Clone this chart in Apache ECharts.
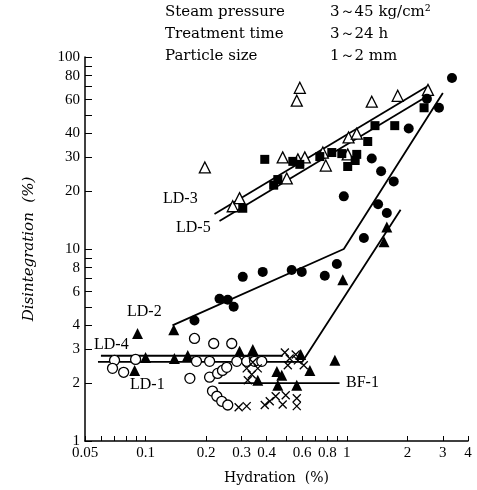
<!DOCTYPE html>
<html lang="en">
<head>
    <meta charset="UTF-8">
    <title>Disintegration vs Hydration</title>
    <style type="text/css">
        * { margin: 0; padding: 0; }
        html, body { width: 100%; height: 100%; background: #fff; }
        #chart-panel { width: 477px; height: 490px; }
    </style>
</head>
<body>
<div id="chart-panel"></div>
<script src="https://cdn.jsdelivr.net/npm/echarts@6/dist/echarts.min.js"></script>
<script>
    // axis ticks / labels
    let xTicks = [0.05, 0.06, 0.07, 0.08, 0.09, 0.1, 0.2, 0.3, 0.4, 0.5, 0.6, 0.7, 0.8, 0.9, 1, 2, 3, 4];
    let xLabels = [0.05, 0.1, 0.2, 0.3, 0.4, 0.6, 0.8, 1, 2, 3, 4];
    let yTicks = [1, 2, 3, 4, 5, 6, 7, 8, 9, 10, 20, 30, 40, 50, 60, 70, 80, 90, 100];
    let yLabels = [1, 2, 3, 4, 6, 8, 10, 20, 30, 40, 60, 80, 100];

    // measured points  [hydration %, disintegration %]
    let ld3Points = [[0.197, 26.6], [0.271, 16.7], [0.293, 18.4], [0.48, 30.0], [0.503, 23.3], [0.571, 29.3],
        [0.618, 30.0], [0.76, 31.8], [0.786, 27.2], [1.01, 31.1], [1.02, 38.1], [1.12, 39.9], [1.33, 58.5],
        [1.79, 62.8], [2.53, 67.4], [0.584, 69.1], [0.564, 59.2]];
    let ld5Points = [[0.304, 16.3], [0.391, 29.3], [0.433, 21.5], [0.454, 23.0], [0.539, 28.6], [0.584, 27.6],
        [0.734, 30.3], [0.842, 31.8], [0.944, 31.4], [1.12, 31.1], [1.10, 28.9], [1.01, 26.9], [1.27, 36.3],
        [1.38, 43.9], [1.73, 43.9], [2.42, 54.4]];
    let ld2Points = [[0.175, 4.24], [0.233, 5.51], [0.256, 5.44], [0.274, 5.0], [0.304, 7.16], [0.382, 7.6],
        [0.532, 7.78], [0.597, 7.6], [0.777, 7.25], [0.892, 8.36], [0.966, 18.8], [1.215, 11.4], [1.33, 29.6],
        [1.48, 25.4], [1.43, 17.1], [1.58, 15.4], [1.71, 22.5], [2.03, 42.4], [2.50, 60.6], [2.87, 54.4], [3.33, 77.8]];
    let ld1Points = [[0.0912, 3.63], [0.0882, 2.33], [0.1, 2.72], [0.139, 2.69], [0.162, 2.79], [0.138, 3.8],
        [0.293, 2.93], [0.341, 3.0], [0.361, 2.07], [0.449, 2.3], [0.475, 2.2], [0.454, 1.95], [0.564, 1.95],
        [0.59, 2.82], [0.655, 2.33], [0.872, 2.63], [0.955, 6.91], [1.53, 10.9], [1.58, 13.0]];
    let ld4Points = [[0.0701, 2.63], [0.0892, 2.66], [0.0685, 2.39], [0.0778, 2.28], [0.175, 3.42], [0.218, 3.22],
        [0.268, 3.22], [0.179, 2.6], [0.166, 2.12], [0.208, 2.6], [0.208, 2.15], [0.228, 2.25], [0.241, 2.33],
        [0.253, 2.42], [0.284, 2.6], [0.318, 2.6], [0.348, 2.6], [0.378, 2.6], [0.215, 1.82], [0.226, 1.71],
        [0.239, 1.61], [0.256, 1.54]];
    let bf1Points = [[0.29, 1.50], [0.318, 1.52], [0.391, 1.54], [0.414, 1.61], [0.443, 1.71], [0.48, 1.55],
        [0.497, 1.73], [0.564, 1.67], [0.564, 1.52], [0.318, 2.39], [0.337, 2.22], [0.322, 2.07], [0.341, 2.57],
        [0.361, 2.39], [0.492, 2.89], [0.52, 2.69], [0.557, 2.82], [0.509, 2.48], [0.571, 2.63], [0.611, 2.48]];

    // fitted lines
    let ld3Line = [[0.22, 15.2], [2.53, 70.7]];
    let ld5Line = [[0.233, 14], [2.39, 60.6]];
    let ld2Line = [[0.136, 4.0], [0.966, 10], [3.0, 65]];
    let ld4Line = [[0.06, 2.78], [0.48, 2.78]];
    let ld1Line = [[0.058, 2.58], [0.6, 2.58], [1.85, 16]];
    let bf1Line = [[0.23, 2.0], [0.92, 2.0]];

    let serif = '"Liberation Serif", "DejaVu Serif", serif';
    let crossPath = 'path://M0,0L10,10M10,0L0,10';

    function lineSeries(data) {
        return {
            type: 'line',
            data: data,
            showSymbol: false,
            silent: true,
            z: 1,
            lineStyle: { color: '#000', width: 1.8 }
        };
    }

    function pointSeries(data, symbol, size, filled) {
        return {
            type: 'scatter',
            data: data,
            symbol: symbol,
            symbolSize: size,
            z: 3,
            itemStyle: {
                color: filled ? '#000' : '#fff',
                borderColor: '#000',
                borderWidth: filled ? 0 : 1.3,
                opacity: 1
            }
        };
    }

    function label(text, x, y) {
        return {
            type: 'text',
            left: x,
            top: y,
            style: { text: text, font: '16px ' + serif, fill: '#000' }
        };
    }

    function header(text, x, y) {
        return {
            type: 'text',
            left: x,
            top: y,
            style: { text: text, font: '15px "DejaVu Serif", serif', fill: '#000' }
        };
    }

    var myChart = echarts.init(document.getElementById('chart-panel'));
    var option = {
        animation: false,
        backgroundColor: '#fff',
        grid: { left: 85, right: 9, top: 57, bottom: 47 },
        xAxis: {
            type: 'log',
            logBase: 10,
            min: 0.05,
            max: 4,
            name: 'Hydration  (%)',
            nameLocation: 'middle',
            nameGap: 30,
            nameTextStyle: { fontFamily: '"DejaVu Serif", serif', fontSize: 14, color: '#000' },
            axisLine: { lineStyle: { color: '#000', width: 1.5 } },
            axisTick: { inside: true, length: 5, customValues: xTicks, lineStyle: { color: '#000' } },
            axisLabel: {
                customValues: xLabels,
                color: '#000',
                fontFamily: serif,
                fontSize: 15,
                margin: 5,
                formatter: v => String(v)
            },
            splitLine: { show: false },
            minorTick: { show: false }
        },
        yAxis: {
            type: 'log',
            logBase: 10,
            min: 1,
            max: 100,
            name: 'Disintegration  (%)',
            nameLocation: 'middle',
            nameRotate: 90,
            nameGap: 48,
            nameTextStyle: { fontFamily: '"DejaVu Serif", serif', fontStyle: 'italic', fontSize: 15, color: '#000' },
            axisLine: { lineStyle: { color: '#000', width: 1.5 } },
            axisTick: { inside: true, length: 7, customValues: yTicks, lineStyle: { color: '#000' } },
            axisLabel: {
                customValues: yLabels,
                color: '#000',
                fontFamily: serif,
                fontSize: 15,
                margin: 5,
                formatter: v => String(v)
            },
            splitLine: { show: false },
            minorTick: { show: false }
        },
        graphic: [
            header('Steam pressure', 165, 5),
            header('3～45 kg/cm²', 330, 5),
            header('Treatment time', 165, 27),
            header('3～24 h', 330, 27),
            header('Particle size', 165, 49),
            header('1～2 mm', 330, 49),
            label('LD-3', 163, 191),
            label('LD-5', 176, 220),
            label('LD-2', 127, 304),
            label('LD-4', 94, 337),
            label('LD-1', 130, 377),
            label('BF-1', 346, 375)
        ],
        series: [
            lineSeries(ld3Line),
            lineSeries(ld5Line),
            lineSeries(ld2Line),
            lineSeries(ld4Line),
            lineSeries(ld1Line),
            lineSeries(bf1Line),
            pointSeries(ld3Points, 'triangle', 11, false),
            pointSeries(ld5Points, 'rect', 9, true),
            pointSeries(ld2Points, 'circle', 10, true),
            pointSeries(ld1Points, 'triangle', 11, true),
            pointSeries(ld4Points, 'circle', 10, false),
            {
                type: 'scatter',
                data: bf1Points,
                symbol: crossPath,
                symbolSize: 8,
                z: 3,
                itemStyle: { color: 'none', borderColor: '#000', borderWidth: 1.3, opacity: 1 }
            }
        ]
    };
    myChart.setOption(option);
    window.onresize = () => {
        myChart.resize();
    }
</script>
</body>
</html>
